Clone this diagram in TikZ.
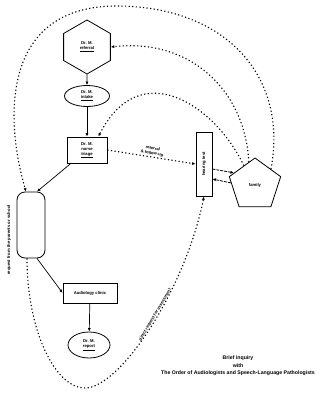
\documentclass[tikz,border=0pt]{standalone}
\usepackage{fontspec}
\setmainfont{Liberation Sans}
\usetikzlibrary{shapes.geometric,arrows.meta}
\begin{document}
\begin{tikzpicture}[x=1pt,y=1pt,>={Latex[length=3.5pt,width=3pt]},
  every node/.style={font=\fontsize{4.2}{5}\selectfont\bfseries,align=center,inner sep=1pt},
  box/.style={draw,line width=0.8pt},
  flow/.style={->,line width=0.7pt},
  trace/.style={->,line width=1.1pt,dash pattern=on 1.2pt off 2.4pt},
  swap/.style={->,line width=0.8pt,dash pattern=on 3pt off 1pt}]
\useasboundingbox (0,0) rectangle (326,-394);
\node[box,regular polygon,regular polygon sides=6,shape border rotate=30,minimum size=54pt,inner sep=0pt] (a) at (87,-47) {Dr. M.\\ \underline{referral}};
\node[box,ellipse,minimum width=45pt,minimum height=21pt,inner sep=0pt] (b) at (87,-96) {Dr. M.\\ \underline{intake}};
\node[box,rectangle,minimum width=40pt,minimum height=26pt] (c) at (87,-150) {Dr. M.\\ nurse\\ \underline{triage}};
\node[box,rectangle,rounded corners=8pt,minimum width=28pt,minimum height=66pt] (d) at (31,-225) {};
\node[box,rectangle,minimum width=54pt,minimum height=20pt] (e) at (90,-293) {Audiology clinic};
\node[box,ellipse,minimum width=42pt,minimum height=26pt,inner sep=0pt] (f) at (89,-345) {Dr. M.\\ \underline{report}};
\node[box,rectangle,minimum width=16pt,minimum height=64pt,inner sep=0pt] (g) at (204,-164) {\rotatebox{90}{hearing test}};
\node[box,regular polygon,regular polygon sides=5,minimum size=54pt,inner sep=0pt] (h) at (255,-185) {family};
\node[rotate=90] (n) at (9,-240) {request from the parents or school};
\node[font=\fontsize{5.2}{7.5}\selectfont\bfseries] (k) at (238,-366) {Brief inquiry\\ with\\ The Order of Audiologists and Speech-Language Pathologists};
% main chain
\draw[flow] (a) -- (b);
\draw[flow] (b) -- (c);
\draw[flow] (c) -- ([xshift=6pt]d.north);
\draw[flow] ([xshift=6pt]d.south) -- (e.west);
\draw[flow] (e) -- (f);
% dotted links
\draw[trace] (c.east) -- node[above,sloped] {referral\\ \& follow-up} (g.west);
\draw[swap] ([yshift=-5pt]g.east) -- (h.150);
\draw[swap] (h.175) -- ([yshift=-15pt]g.east);
\draw[trace] (h.105) .. controls (245,-90) and (190,-38) .. (a.east);
\draw[trace] (h.120) .. controls (215,-105) and (140,-55) .. ([xshift=-9pt]c.north east);
\draw[trace] (h.45) .. controls (288,-80) and (230,-8) .. (120,-6) .. controls (0,-4) and (5,-120) .. ([xshift=-5pt]d.north);
\draw[trace] ([xshift=-4pt]d.south) .. controls (27,-330) and (55,-388) .. (85,-388) .. controls (120,-388) and (185,-290) .. node[sloped,above=-1pt,pos=0.55] {direct request for assessment} (g.south);
\end{tikzpicture}
\end{document}
